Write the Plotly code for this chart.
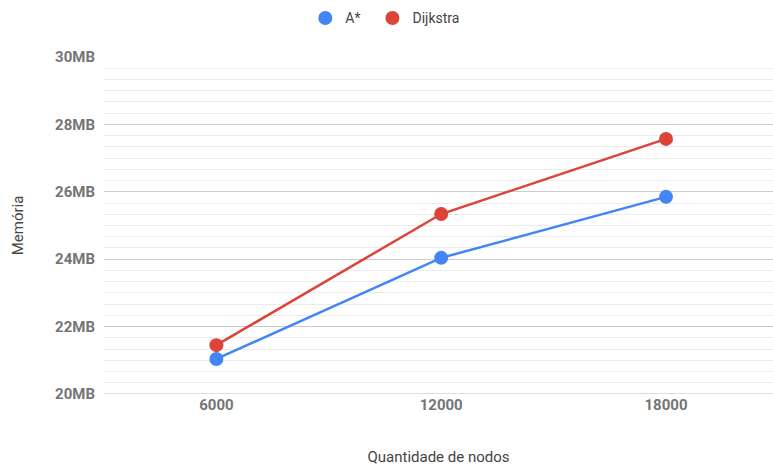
import plotly.graph_objects as go

categories = ["6000", "12000", "18000"]
astar = [21.04, 24.04, 25.85]
dijkstra = [21.45, 25.34, 27.57]
series_names = ["A*", "Dijkstra"]
colors = ["#4285F4", "#DB4437"]

fig = go.Figure()
for name, vals, c in zip(series_names, [astar, dijkstra], colors):
    fig.add_trace(go.Scatter(x=categories, y=vals, mode="lines+markers", name=name,
                             line=dict(color=c, width=2.5),
                             marker=dict(color=c, size=14),
                             showlegend=False))
legend_labels = ["A*\u00a0\u00a0", "Dijkstra"]
for name, c in zip(legend_labels, colors):
    fig.add_trace(go.Scatter(x=[None], y=[None], mode="markers", name=name,
                             marker=dict(color=c, size=14)))

fig.update_layout(
    width=773, height=466,
    margin=dict(l=104, r=0, t=57, b=72),
    paper_bgcolor="white", plot_bgcolor="white",
    font=dict(family="Roboto", color="#444444"),
    legend=dict(orientation="h", xref="container", x=0.395, xanchor="left",
                yref="container", y=0.995, yanchor="top",
                font=dict(size=14, color="#444444"), itemwidth=30),
    xaxis=dict(type="category", range=[-0.5, 2.476], showgrid=False, zeroline=False,
               showline=False, ticks="", automargin=False,
               tickfont=dict(size=15, color="#757575", weight="bold"),
               title=dict(text="Quantidade de nodos", font=dict(size=15, color="#444444"),
                          standoff=49)),
    yaxis=dict(range=[20, 30], dtick=2, tick0=20, ticksuffix="MB",
               showgrid=True, gridcolor="#cccccc", gridwidth=1,
               zeroline=False, showline=False, ticks="", automargin=False,
               ticklabelstandoff=8,
               tickfont=dict(size=15, color="#757575", weight="bold"),
               minor=dict(dtick=2/6, tick0=20, showgrid=True, gridcolor="#ebebeb", gridwidth=1),
               title=dict(text="Memória", font=dict(size=15, color="#444444"), standoff=27)),
)
fig.add_hline(y=20, line=dict(color="#bbbbbb", width=1), layer="below")
fig.write_html("out.html")
